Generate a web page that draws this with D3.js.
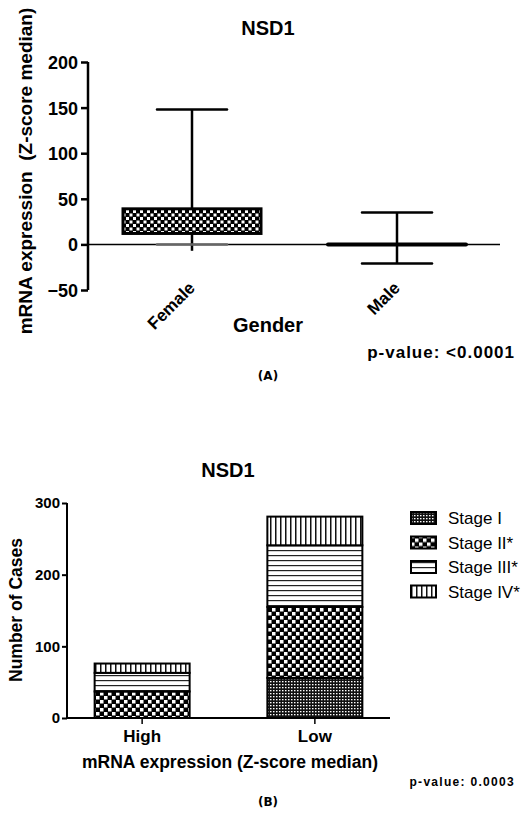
<!DOCTYPE html>
<html>
<head>
<meta charset="utf-8">
<script src="https://cdn.jsdelivr.net/npm/d3@7"></script>
<style>
  body { margin: 0; background: #fff; }
  text { font-family: "Liberation Sans", Arial, sans-serif; }
</style>
</head>
<body>
<script>
// panel A: box plot of NSD1 expression by gender
var genders = ["Female", "Male"];
var boxLow = [12, 0];
var boxHigh = [39, 0];
var whiskMin = [0, -21];
var whiskMax = [148, 35];
var yTicksA = [-50, 0, 50, 100, 150, 200];

// panel B: stacked stage counts by expression group
var groups = ["High", "Low"];
var stages = ["Stage I", "Stage II*", "Stage III*", "Stage IV*"];
var stageI = [0, 56];
var stageII = [37, 99];
var stageIII = [26, 86];
var stageIV = [13, 40];
var yTicksB = [0, 100, 200, 300];

var svg = d3.select("body")
    .append("svg")
    .attr("width", 530)
    .attr("height", 815);

var defs = svg.append("defs");

// checker used by female box and stage II
function checker(id, s, w) {
  var p = defs.append("pattern").attr("id", id)
      .attr("patternUnits", "userSpaceOnUse")
      .attr("width", s * 2).attr("height", s * 2);
  p.append("rect").attr("width", s * 2).attr("height", s * 2).attr("fill", "#000");
  p.append("rect").attr("x", 0).attr("y", 0).attr("width", w).attr("height", w).attr("fill", "#fff");
  p.append("rect").attr("x", s).attr("y", s).attr("width", w).attr("height", w).attr("fill", "#fff");
}
checker("chk", 4, 3.5);
checker("chkA", 3.5, 3);

var pI = defs.append("pattern").attr("id", "fine")
    .attr("patternUnits", "userSpaceOnUse").attr("width", 3).attr("height", 3);
pI.append("rect").attr("width", 3).attr("height", 3).attr("fill", "#111");
pI.append("rect").attr("x", 0).attr("y", 0).attr("width", 1.5).attr("height", 1.3).attr("fill", "#fff");

var pH = defs.append("pattern").attr("id", "hline")
    .attr("patternUnits", "userSpaceOnUse").attr("width", 5).attr("height", 5);
pH.append("rect").attr("width", 5).attr("height", 5).attr("fill", "#fff");
pH.append("rect").attr("y", 0).attr("width", 5).attr("height", 1.2).attr("fill", "#222");

var pV = defs.append("pattern").attr("id", "vline")
    .attr("patternUnits", "userSpaceOnUse").attr("width", 5).attr("height", 5);
pV.append("rect").attr("width", 5).attr("height", 5).attr("fill", "#fff");
pV.append("rect").attr("x", 0).attr("width", 1.5).attr("height", 5).attr("fill", "#111");

var fills = ["url(#fine)", "url(#chk)", "url(#hline)", "url(#vline)"];

// ---------- panel A ----------
var yA = d3.scaleLinear().domain([-50, 200]).range([290, 62]);
var xA = d3.scalePoint().domain(genders).range([192, 397]);

svg.append("text").attr("x", 268).attr("y", 35).attr("text-anchor", "middle")
    .style("font-size", "20px").style("font-weight", "bold").text("NSD1");

var axA = svg.append("g").attr("transform", "translate(88,0)")
    .call(d3.axisLeft(yA).tickValues(yTicksA).tickSize(7).tickPadding(3));
axA.select(".domain").attr("stroke-width", 2.5).attr("d", "M0," + yA(-50) + "V" + yA(200));
axA.selectAll(".tick line").attr("stroke-width", 2.5);
axA.selectAll(".tick text").style("font-size", "18px").style("font-weight", "bold")
    .style("fill", "#000").attr("dy", "0.36em");

// zero line
svg.append("line").attr("x1", 88).attr("x2", 500)
    .attr("y1", yA(0)).attr("y2", yA(0)).attr("stroke", "#000").attr("stroke-width", 1.5);

genders.forEach(function(g, i) {
  var cx = xA(g);
  var gb = svg.append("g");
  gb.append("line").attr("x1", cx).attr("x2", cx)
      .attr("y1", yA(whiskMax[i])).attr("y2", yA(i === 0 ? -7 : whiskMin[i]))
      .attr("stroke", "#000").attr("stroke-width", 2.5);
  [whiskMax[i], whiskMin[i]].forEach(function(v, j) {
    gb.append("line").attr("x1", cx - 35).attr("x2", cx + 35)
        .attr("y1", yA(v)).attr("y2", yA(v))
        .attr("stroke", i === 0 && j === 1 ? "#666" : "#000").attr("stroke-width", 2.5)
        .attr("stroke-linecap", "round");
  });
  if (boxHigh[i] > boxLow[i]) {
    gb.append("rect").attr("x", cx - 69).attr("width", 138)
        .attr("y", yA(boxHigh[i])).attr("height", yA(boxLow[i]) - yA(boxHigh[i]))
        .attr("fill", "url(#chkA)").attr("stroke", "#000").attr("stroke-width", 3);
  } else {
    gb.append("line").attr("x1", cx - 69).attr("x2", cx + 69)
        .attr("y1", yA(boxLow[i])).attr("y2", yA(boxLow[i]))
        .attr("stroke", "#000").attr("stroke-width", 4).attr("stroke-linecap", "round");
  }
  svg.append("text")
      .attr("transform", "translate(" + (cx + 4) + "," + 289 + ") rotate(-45)")
      .attr("text-anchor", "end")
      .style("font-size", "17px").style("font-weight", "bold").text(g);
});

svg.append("text").attr("x", 268).attr("y", 332).attr("text-anchor", "middle")
    .style("font-size", "20px").style("font-weight", "bold").text("Gender");

svg.append("text").attr("transform", "translate(32,171) rotate(-90)")
    .attr("text-anchor", "middle")
    .style("font-size", "19px").style("font-weight", "bold")
    .text("mRNA expression \u00a0(Z-score median)");

svg.append("text").attr("x", 515).attr("y", 358).attr("text-anchor", "end")
    .style("font-size", "17px").style("font-weight", "bold").style("letter-spacing", "1px")
    .text("p-value: <0.0001");

svg.append("text").attr("x", 268).attr("y", 380).attr("text-anchor", "middle")
    .style("font-family", "'DejaVu Sans', sans-serif")
    .style("font-size", "12px").style("font-weight", "bold").text("(A)");

// ---------- panel B ----------
var yB = d3.scaleLinear().domain([0, 300]).range([718, 503]);
var xB = d3.scaleBand().domain(groups).range([67, 390]).paddingInner(0.45).paddingOuter(0.16);

svg.append("text").attr("x", 228).attr("y", 477).attr("text-anchor", "middle")
    .style("font-size", "20px").style("font-weight", "bold").text("NSD1");

var rows = groups.map(function(g, i) {
  return { group: g, "Stage I": stageI[i], "Stage II*": stageII[i],
           "Stage III*": stageIII[i], "Stage IV*": stageIV[i] };
});
var stacked = d3.stack().keys(stages)(rows);

stacked.forEach(function(layer, k) {
  svg.append("g").selectAll("rect").data(layer.filter(function(d) { return d[1] > d[0]; }))
    .join("rect")
    .attr("x", function(d) { return xB(d.data.group); })
    .attr("width", xB.bandwidth())
    .attr("y", function(d) { return yB(d[1]); })
    .attr("height", function(d) { return yB(d[0]) - yB(d[1]); })
    .attr("fill", fills[k])
    .attr("stroke", "#000").attr("stroke-width", 2);
});

var axB = svg.append("g").attr("transform", "translate(67,0)")
    .call(d3.axisLeft(yB).tickValues(yTicksB).tickSize(5).tickPadding(2));
axB.select(".domain").attr("stroke-width", 2).attr("d", "M0," + yB(300) + "V" + yB(0));
axB.selectAll(".tick line").attr("stroke-width", 2);
axB.selectAll(".tick text").style("font-size", "15px").style("font-weight", "bold")
    .style("fill", "#000");

var axBx = svg.append("g").attr("transform", "translate(0," + yB(0) + ")")
    .call(d3.axisBottom(xB).tickSize(6).tickPadding(6));
axBx.select(".domain").attr("stroke-width", 2).attr("d", "M67,0H390");
axBx.selectAll(".tick line").attr("stroke-width", 1.5);
axBx.selectAll(".tick text").style("font-size", "17px").style("font-weight", "bold")
    .style("fill", "#000");

svg.append("text").attr("x", 230).attr("y", 768).attr("text-anchor", "middle")
    .style("font-size", "17.5px").style("font-weight", "bold")
    .text("mRNA expression (Z-score median)");

svg.append("text").attr("transform", "translate(22,610) rotate(-90)")
    .attr("text-anchor", "middle")
    .style("font-size", "17.5px").style("font-weight", "bold").text("Number of Cases");

var leg = svg.append("g").selectAll("g").data(stages).join("g")
    .attr("transform", function(d, i) { return "translate(411," + (518 + i * 24.5) + ")"; });
leg.append("rect").attr("x", 0).attr("y", -6).attr("width", 25).attr("height", 12)
    .attr("fill", function(d, i) { return fills[i]; })
    .attr("stroke", "#000").attr("stroke-width", 2);
leg.append("text").attr("x", 37).attr("dy", "0.36em")
    .style("font-size", "17px").text(function(d) { return d; });

svg.append("text").attr("x", 515).attr("y", 786).attr("text-anchor", "end")
    .style("font-size", "12px").style("font-weight", "bold").style("letter-spacing", "1.3px")
    .text("p-value: 0.0003");

svg.append("text").attr("x", 268).attr("y", 806).attr("text-anchor", "middle")
    .style("font-family", "'DejaVu Sans', sans-serif")
    .style("font-size", "12px").style("font-weight", "bold").text("(B)");
</script>
</body>
</html>
